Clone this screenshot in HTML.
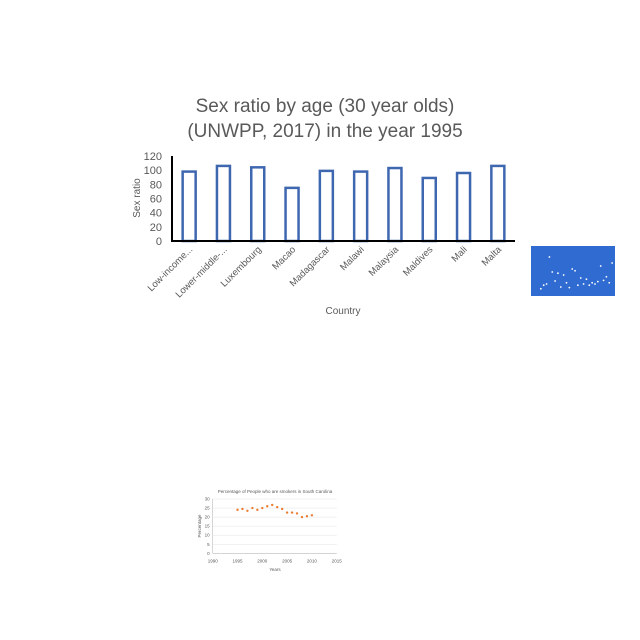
<!DOCTYPE html>
<html><head><meta charset="utf-8"><style>
body{margin:0;background:#fff;font-family:"Liberation Sans",sans-serif}
svg{display:block}
</style></head><body>
<svg id="s" width="640" height="640" viewBox="0 0 640 640">
<text x="325" y="112" text-anchor="middle" font-size="19" fill="#595959">Sex ratio by age (30 year olds)</text>
<text x="325" y="137" text-anchor="middle" font-size="19" fill="#595959">(UNWPP, 2017) in the year 1995</text>
<text x="140" y="198" transform="rotate(-90 140 198)" text-anchor="middle" font-size="10" fill="#595959">Sex ratio</text>
<text x="343" y="314" text-anchor="middle" font-size="10" fill="#595959">Country</text>
<g id="main"></g>
<rect x="531" y="246" width="84" height="50" fill="#2f6bd1"/>
<g id="thumb"></g>
<text x="275" y="493" text-anchor="middle" font-size="4.5" fill="#595959">Percentage of People who are smokers in South Carolina</text>
<text x="201" y="526" transform="rotate(-90 201 526)" text-anchor="middle" font-size="4.5" fill="#595959">Percentage</text>
<text x="275" y="571" text-anchor="middle" font-size="4.5" fill="#595959">Years</text>
<g id="small"></g>
</svg>
<script>
const NS="http://www.w3.org/2000/svg";
const categories=["Low-income...","Lower-middle-...","Luxembourg","Macao","Madagascar","Malawi","Malaysia","Maldives","Mali","Malta"];
const sexRatio=[98,106,104,75,99,98,103,89,96,106];
const yTicks=[0,20,40,60,80,100,120];
const years=[1995,1996,1997,1998,1999,2000,2001,2002,2003,2004,2005,2006,2007,2008,2009,2010];
const smokers=[24,24.5,23.5,25,24,25,26,26.7,25.5,24.5,22.5,22.5,22,20,20.5,21];
const smallYTicks=[0,5,10,15,20,25,30];
const smallXTicks=[1990,1995,2000,2005,2010,2015];
const thumbX=[1,2,3,4,5,6,7,8,9,10,11,12,13,14,15,16,17,18,19,20,21,22,23,24,25,26];
const thumbY=[2,8,10,55,30,15,28,5,25,12,4,35,32,8,20,10,18,8,12,10,14,40,16,22,12,45];
function el(t,a,p){const e=document.createElementNS(NS,t);for(const k in a)e.setAttribute(k,a[k]);(p||document.getElementById('s')).appendChild(e);return e;}
// main
const g=document.getElementById('main');
const x0=172,x1=515,y0=241,y1=156;
const yS=v=>y0-(v/120)*(y0-y1);
const band=(x1-x0)/categories.length;
const xS=i=>x0+band*(i+0.5);
yTicks.forEach(t=>{const e=el('text',{x:162,y:yS(t)+4,'text-anchor':'end','font-size':11,fill:'#595959'},g);e.textContent=t;

});
sexRatio.forEach((v,i)=>{const r=el('rect',{x:xS(i)-6.5,y:yS(v),width:13,height:y0-yS(v),fill:'#fff',stroke:'#3f67b0','stroke-width':2.5},g);


const c=xS(i)+4,yy=250;const t=el('text',{x:c,y:yy,'text-anchor':'end','font-size':9.5,fill:'#595959',transform:`rotate(-45 ${c} ${yy})`},g);t.textContent=categories[i];

});
const ax=el('line',{x1:x0,y1:y1,x2:x0,y2:y0+1,stroke:'#000','stroke-width':2},g);


const bx=el('line',{x1:x0-1,y1:y0,x2:x1,y2:y0,stroke:'#000','stroke-width':2},g);


// thumbnail
const tg=document.getElementById('thumb');
thumbX.forEach((xv,i)=>{const d=el('circle',{cx:538+xv*2.85,cy:290-thumbY[i]*0.6,r:0.9,fill:'#fff'},tg);

});
// small chart
const sg=document.getElementById('small');
const sx0=212.7,sx1=336.7,sy0=553.3,sy1=499;
const sxS=v=>sx0+(v-1990)/25*(sx1-sx0);
const syS=v=>sy0-v/30*(sy0-sy1);
smallYTicks.forEach(t=>{const l=el('line',{x1:sx0,x2:sx1,y1:syS(t),y2:syS(t),stroke:'#e3e3e3','stroke-width':0.5},sg);


const e=el('text',{x:sx0-3,y:syS(t)+1.5,'text-anchor':'end','font-size':4.5,fill:'#595959'},sg);e.textContent=t;

});
smallXTicks.forEach(t=>{const e=el('text',{x:sxS(t),y:sy0+9,'text-anchor':'middle','font-size':4.5,fill:'#595959'},sg);e.textContent=t;

});
const sa=el('line',{x1:sx0,y1:sy1,x2:sx0,y2:sy0,stroke:'#bbb','stroke-width':0.6},sg);


const sb=el('line',{x1:sx0,y1:sy0,x2:sx1,y2:sy0,stroke:'#bbb','stroke-width':0.6},sg);


years.forEach((yr,i)=>{const d=el('circle',{cx:sxS(yr),cy:syS(smokers[i]),r:1.2,fill:'#ed7d31'},sg);

});
</script>
</body></html>
